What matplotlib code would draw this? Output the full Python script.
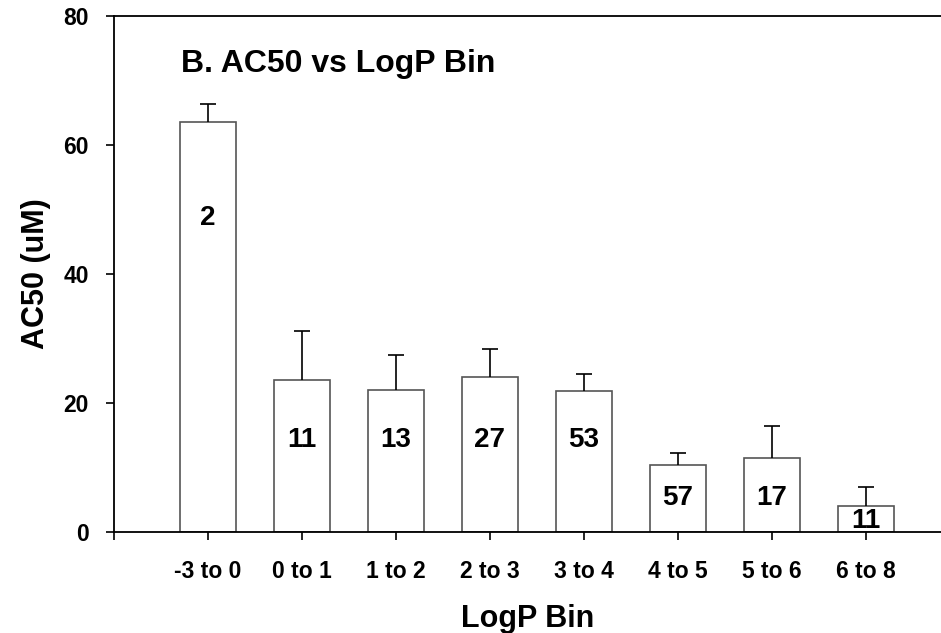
import matplotlib
matplotlib.use("Agg")
import matplotlib.pyplot as plt

plt.rcParams['font.family'] = ['Liberation Sans', 'DejaVu Sans']

categories = ["-3 to 0", "0 to 1", "1 to 2", "2 to 3", "3 to 4", "4 to 5", "5 to 6", "6 to 8"]
ac50 = [63.5, 23.6, 22.0, 24.1, 21.8, 10.4, 11.4, 4.0]
err_upper = [2.9, 7.5, 5.4, 4.2, 2.7, 1.9, 5.0, 2.9]
counts = ["2", "11", "13", "27", "53", "57", "17", "11"]
count_y = [48.7, 14.2, 14.2, 14.2, 14.2, 5.3, 5.3, 1.7]
yticks = [0, 20, 40, 60, 80]

fig = plt.figure(figsize=(9.41, 6.33), dpi=100)
ax = fig.add_axes([114/941, 101/633, 1 - 114/941, (532-16)/633])

pos = list(range(1, len(categories) + 1))
ax.bar(pos, ac50, width=0.6, color='white', edgecolor='#555555', linewidth=1.2, zorder=2)
eb = ax.errorbar(pos, ac50, yerr=[[0]*len(ac50), err_upper], fmt='none', ecolor='black',
                 elinewidth=1.2, capsize=5.8, capthick=1.2, zorder=3)
# hide the lower caps (only upward error bars in the reference)
caplines = eb[1]
if len(caplines) == 2:
    caplines[0].set_visible(False)
for x, t, y in zip(pos, counts, count_y):
    ax.text(x, y, t, ha='center', va='center', fontsize=20, fontweight='bold')

ax.set_xlim(0, 8.8)
ax.set_ylim(0, 80)
ax.set_xticks(pos)
ax.set_xticklabels(categories, fontsize=16.5, fontweight='bold')
ax.set_xticks([0], minor=True)
ax.set_yticks(yticks)
ax.set_yticklabels([str(v) for v in yticks], fontsize=16.5, fontweight='bold')
ax.tick_params(axis='both', which='both', direction='out', length=6, width=1.2)
ax.tick_params(axis='x', pad=14)
ax.tick_params(axis='y', pad=12)
ax.spines['right'].set_visible(False)
for s in ['left', 'bottom', 'top']:
    ax.spines[s].set_linewidth(1.3)

ax.set_xlabel("LogP Bin", fontsize=22, fontweight='bold', labelpad=15)
ax.set_ylabel("AC50 (uM)", fontsize=22, fontweight='bold', labelpad=9)
ax.text(0.71, 71.3, "B. AC50 vs LogP Bin", fontsize=23, fontweight='bold', ha='left', va='baseline')

fig.savefig("out.png", dpi=100)
